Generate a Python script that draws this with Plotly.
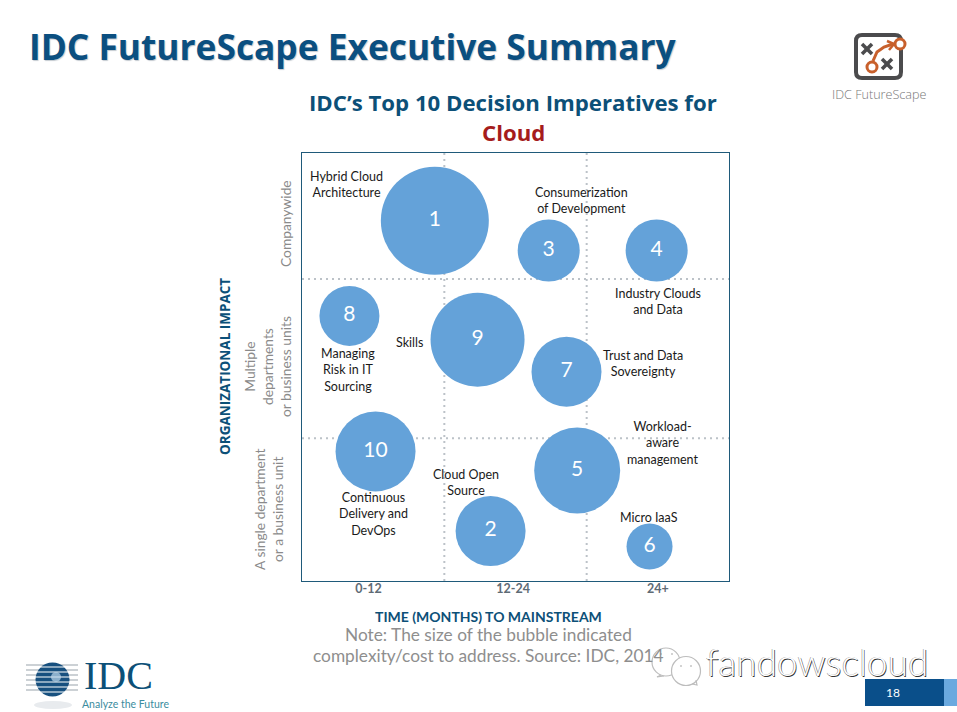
import plotly.graph_objects as go

W, H = 957, 712
L, R, T, B = 302, 729, 153, 581

ids = ["1", "2", "3", "4", "5", "6", "7", "8", "9", "10"]
months = [11.2, 15.9, 20.8, 29.9, 23.2, 29.3, 22.3, 4.0, 14.8, 6.2]
impact = [30.3, 4.2, 27.8, 27.8, 9.3, 2.9, 17.6, 22.3, 20.3, 10.9]
cost = [108, 70, 62, 62, 86, 46, 70, 60, 94, 80]

x_ticks = [5.6, 17.8, 30]
x_labels = ["0-12", "12-24", "24+"]
y_labels = ["A single department<br>or a business unit",
            "Multiple<br>departments<br>or business units",
            "Companywide"]
y_label_px = [(268, 510), (267, 367), (285, 224)]
x_dividers = [12, 24]
y_dividers = [12, 25.4]

names = ["Hybrid Cloud<br>Architecture", "Consumerization<br>of Development",
         "Industry Clouds<br>and Data", "Managing<br>Risk in IT<br>Sourcing", "Skills",
         "Trust and Data<br>Sovereignty", "Workload-<br>aware<br>management",
         "Cloud Open<br>Source", "Continuous<br>Delivery and<br>DevOps", "Micro IaaS"]
name_px = [(346, 184), (581, 200), (658, 301), (348, 370), (409, 342),
           (643, 363), (662, 443), (466, 482), (373, 514), (649, 517)]

NAVY = "#0c5078"
BODY = "Lato, 'Open Sans', sans-serif"
HEAD = "'Open Sans', sans-serif"


def px(x):
    return (x - L) / (R - L)


def py(y):
    return (B - y) / (B - T)


def note(text, x, y, size, color, family=BODY, angle=0, **kw):
    font = dict(size=size, color=color, family=family)
    font.update(kw.pop("font_extra", {}))
    return dict(text=text, x=px(x), y=py(y), xref="paper", yref="paper", showarrow=False,
                xanchor=kw.pop("xanchor", "center"), yanchor="middle", textangle=angle,
                font=font, align=kw.pop("align", "center"))


def path_shape(points, color, width, close=False):
    d = "M " + " L ".join(f"{px(a):.5f} {py(b):.5f}" for a, b in points) + (" Z" if close else "")
    return dict(type="path", path=d, xref="paper", yref="paper",
                line=dict(color=color, width=width), layer="above")


def circle(cx, cy, r, fill, line=None, width=0):
    return dict(type="circle", xref="paper", yref="paper", x0=px(cx - r), x1=px(cx + r),
                y0=py(cy + r), y1=py(cy - r), fillcolor=fill, layer="above",
                line=dict(color=line or fill, width=width))


def rect(x0, y0, x1, y1, fill):
    return dict(type="rect", xref="paper", yref="paper", x0=px(x0), x1=px(x1), y0=py(y1), y1=py(y0),
                fillcolor=fill, line=dict(width=0), layer="above")


def round_box(x0, y0, x1, y1, r, color, width):
    p = lambda a, b: f"{px(a):.5f} {py(b):.5f}"
    d = (f"M {p(x0 + r, y0)} L {p(x1 - r, y0)} Q {p(x1, y0)} {p(x1, y0 + r)} L {p(x1, y1 - r)} "
         f"Q {p(x1, y1)} {p(x1 - r, y1)} L {p(x0 + r, y1)} Q {p(x0, y1)} {p(x0, y1 - r)} "
         f"L {p(x0, y0 + r)} Q {p(x0, y0)} {p(x0 + r, y0)} Z")
    return dict(type="path", path=d, xref="paper", yref="paper", layer="above",
                line=dict(color=color, width=width))


shapes = []
for v in x_dividers:
    shapes.append(dict(type="line", xref="x", yref="paper", x0=v, x1=v, y0=0, y1=1, layer="below",
                       line=dict(color="#bcc2c8", width=2, dash="2px,4px")))
for v in y_dividers:
    shapes.append(dict(type="line", xref="paper", yref="y", x0=0, x1=1, y0=v, y1=v, layer="below",
                       line=dict(color="#bcc2c8", width=2, dash="2px,4px")))

# FutureScape icon
shapes.append(round_box(856, 35, 901, 78, 6, "#4b4b4d", 4))
for cx, cy in [(867, 49), (887, 64)]:
    shapes.append(path_shape([(cx - 5, cy - 5), (cx + 5, cy + 5)], "#4b4b4d", 3.5))
    shapes.append(path_shape([(cx - 5, cy + 5), (cx + 5, cy - 5)], "#4b4b4d", 3.5))
shapes.append(path_shape([(873, 61), (877, 52), (884, 47), (893, 44)], "#c8602c", 3))
shapes.append(path_shape([(887, 41), (894, 44), (889, 50)], "#c8602c", 2.5))
shapes.append(circle(900, 44, 5, "#ffffff", "#c8602c", 3))
shapes.append(circle(872, 67, 5, "#ffffff", "#c8602c", 3))

# IDC globe logo
shapes.append(dict(type="circle", xref="paper", yref="paper", x0=px(34), x1=px(72), y0=py(709), y1=py(701),
                   fillcolor="#e8ebee", line=dict(width=0), layer="above"))
for y in range(665, 694, 5):
    shapes.append(path_shape([(26, y), (78, y)], "#9aa3ab", 1.2))
shapes.append(circle(52.5, 679.5, 17, "#17507f"))
for y in range(667, 694, 5):
    shapes.append(path_shape([(34, y), (71, y)], "#ffffff", 1.2))
shapes.append(circle(56, 677, 5, "rgba(190,215,235,0.7)"))

# page footer
shapes.append(rect(865, 679, 944, 706, "#0a4f8a"))
shapes.append(rect(944, 679, 957, 706, "#6aa9df"))

# watermark speech bubbles
shapes.append(circle(666, 662, 14, "#ffffff", "#bdbdbd", 1.2))
shapes.append(path_shape([(661, 675), (657, 677), (664, 676)], "#bdbdbd", 1.2))
shapes.append(circle(686, 671, 14.5, "#ffffff", "#bdbdbd", 1.2))
shapes.append(path_shape([(692, 684), (697, 685), (696, 680)], "#bdbdbd", 1.2))
for ex, ey in [(661, 654), (672, 654), (681, 666), (691, 666)]:
    shapes.append(circle(ex, ey, 1, "#c4c4c4"))

annotations = [
    note("IDC FutureScape Executive Summary", 27, 46, 35.3, "#0b4f80", HEAD, xanchor="left",
         font_extra=dict(weight=700, shadow="1px 1px 1px #c4cad0")),
    note("IDC’s Top 10 Decision Imperatives for", 513, 103, 22.2, NAVY, HEAD,
         font_extra=dict(weight=700)),
    note("Cloud", 513, 132, 22.2, "#a51c1c", HEAD, font_extra=dict(weight=700)),
    note("ORGANIZATIONAL IMPACT", 225, 367, 13.5, NAVY, HEAD, angle=-90, font_extra=dict(weight=700)),
    note("TIME (MONTHS) TO MAINSTREAM", 488, 616, 14, NAVY, BODY, font_extra=dict(weight=700)),
    note("Note: The size of the bubble indicated", 488, 634, 17.3, "#8e8e8e"),
    note("complexity/cost to address. Source: IDC, 2014", 488, 655, 17.3, "#8e8e8e"),
    note("IDC FutureScape", 879, 95, 12.6, "#777777", HEAD, font_extra=dict(weight=300)),
    note("IDC", 118, 675, 40, NAVY, "'Liberation Serif', serif"),
    note("Analyze the Future", 125, 704, 10.5, "#3b8c9e"),
    note("18", 893, 692, 12, "#ffffff"),
    note("fandowscloud", 817, 661, 37, "#ffffff", BODY,
         font_extra=dict(weight=300, shadow="0.7px 0.7px 0 #333, -0.5px -0.3px 0 #888")),
]
for name, (ax, ay) in zip(names, name_px):
    annotations.append(note(name, ax, ay, 12.5, "#1a1a1a"))
for lab, (ax, ay) in zip(y_labels, y_label_px):
    annotations.append(note(lab, ax, ay, 13.8, "#8a8a8a", angle=-90))

fig = go.Figure(go.Scatter(
    x=months, y=impact, mode="markers+text", text=ids, textposition="middle center",
    textfont=dict(color="#ffffff", size=21, family=BODY),
    marker=dict(size=cost, sizemode="diameter", color="#64a2d9", opacity=1, line=dict(width=0)),
    cliponaxis=False, hoverinfo="text",
))
fig.update_layout(
    width=W, height=H, autosize=False, showlegend=False,
    margin=dict(l=L, r=W - R, t=T, b=H - B, pad=0),
    paper_bgcolor="#ffffff", plot_bgcolor="#ffffff",
    shapes=shapes, annotations=annotations,
    xaxis=dict(range=[0, 36], tickvals=x_ticks, ticktext=x_labels, showgrid=False, zeroline=False,
               showline=True, mirror=True, linecolor="#1f5a7a", linewidth=1.2, ticks="",
               ticklabelstandoff=-4,
               tickfont=dict(size=12.5, color="#5f6b75", family=BODY, weight=700)),
    yaxis=dict(range=[0, 36], showticklabels=False, showgrid=False, zeroline=False,
               showline=True, mirror=True, linecolor="#1f5a7a", linewidth=1.2, ticks=""),
)
fig.write_html("out.html", config=dict(displayModeBar=False),
               post_script="document.body.style.margin='0';document.body.style.overflow='hidden';")
